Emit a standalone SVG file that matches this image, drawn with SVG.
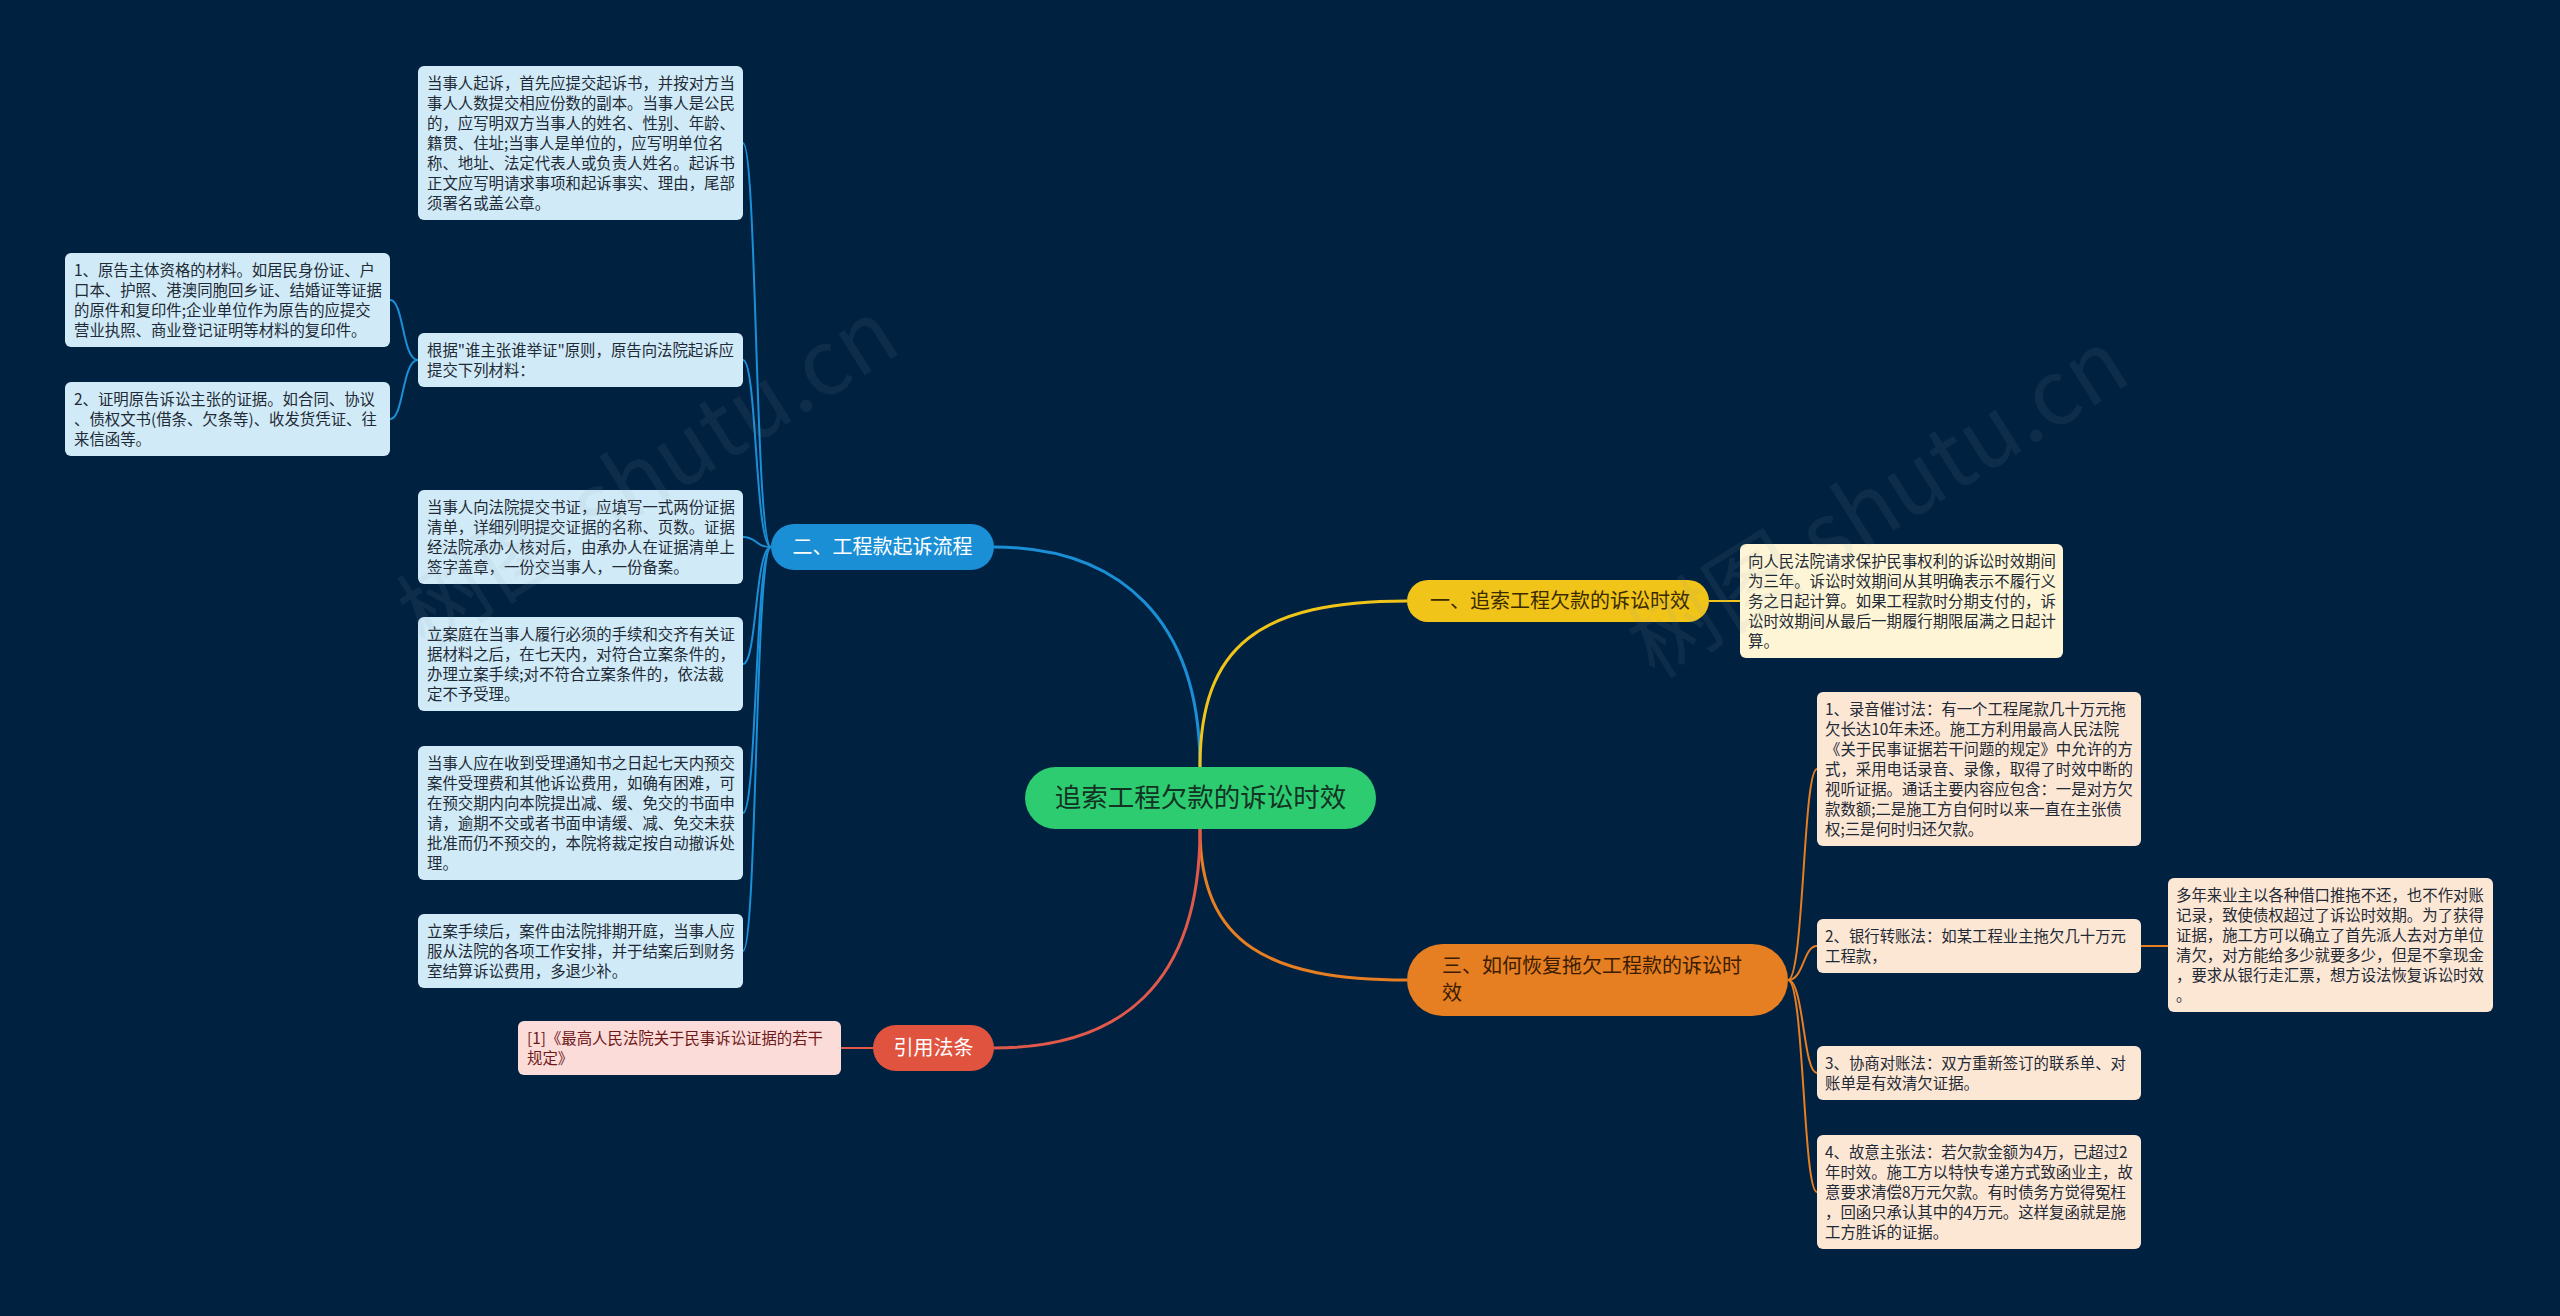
<svg xmlns="http://www.w3.org/2000/svg" width="2560" height="1316" viewBox="0 0 2560 1316">
<style>
text{font-family:"Noto Sans CJK SC","Noto Sans",sans-serif;}
.leaf{font-size:15.4px;fill:#1f2a36;}
.blue rect{fill:#d0eaf7;}
.yel rect{fill:#fdf5d5;}
.org rect{fill:#fce7d5;}
.pink rect{fill:#fbdcd9;}
.pill{font-size:20px;}
.wm{font-size:90px;fill:#9aa3ad;opacity:0.09;font-family:"Noto Sans CJK SC","Liberation Sans",sans-serif;}
.c{fill:none;}
</style>
<rect x="0" y="0" width="2560" height="1316" fill="#002140"/>

<g id="connectors">
  <path class="c" d="M1200 767 C1200 620 1120 547 994 547" stroke="#1b8fd6" stroke-width="3"/>
  <path class="c" d="M1200 767 C1200 645 1260 601 1407 601" stroke="#f0c419" stroke-width="3"/>
  <path class="c" d="M1200 829 C1200 945 1270 980 1407 980" stroke="#e67e22" stroke-width="3"/>
  <path class="c" d="M1200 829 C1200 985 1120 1048 994 1048" stroke="#e0594a" stroke-width="3"/>
  <g stroke="#1b8fd6" stroke-width="2" fill="none">
    <path d="M771 547 C755 547 757 143 743 143"/>
    <path d="M771 547 C755 547 757 360 743 360"/>
    <path d="M771 547 C755 547 757 537 743 537"/>
    <path d="M771 547 C755 547 757 664 743 664"/>
    <path d="M771 547 C755 547 757 813 743 813"/>
    <path d="M771 547 C755 547 757 951 743 951"/>
    <path d="M418 360 C402 360 404 300 390 300"/>
    <path d="M418 360 C402 360 404 419 390 419"/>
  </g>
  <path class="c" d="M1709 601 L1740 601" stroke="#f0c419" stroke-width="2"/>
  <g stroke="#e67e22" stroke-width="2" fill="none">
    <path d="M1788 980 C1804 980 1803 769 1817 769"/>
    <path d="M1788 980 C1804 980 1803 946 1817 946"/>
    <path d="M1788 980 C1804 980 1803 1073 1817 1073"/>
    <path d="M1788 980 C1804 980 1803 1192 1817 1192"/>
    <path d="M2141 946 L2168 946"/>
  </g>
  <path class="c" d="M873 1048 L841 1048" stroke="#e0594a" stroke-width="2"/>
</g>

<g id="root">
  <rect x="1025" y="767" width="351" height="62" rx="31" fill="#2ecc71"/>
  <text x="1200.5" y="807" text-anchor="middle" font-size="26.5" fill="#123323">追索工程欠款的诉讼时效</text>
</g>

<g id="branch1">
  <rect x="1407" y="580" width="302" height="42" rx="21" fill="#f0c419"/>
  <text class="pill" x="1430" y="608" fill="#3a2a00">一、追索工程欠款的诉讼时效</text>
</g>
<g id="branch2">
  <rect x="771" y="524" width="223" height="46" rx="23" fill="#1b8fd6"/>
  <text class="pill" x="882.5" y="554" text-anchor="middle" fill="#ffffff">二、工程款起诉流程</text>
</g>
<g id="branch3">
  <rect x="1407" y="944" width="381" height="72" rx="36" fill="#e67e22"/>
  <text class="pill" fill="#3a1c00"><tspan x="1442" y="973">三、如何恢复拖欠工程款的诉讼时</tspan><tspan x="1442" y="1000">效</tspan></text>
</g>
<g id="branch4">
  <rect x="873" y="1025" width="121" height="46" rx="23" fill="#e0533f"/>
  <text class="pill" x="933.5" y="1055" text-anchor="middle" fill="#ffffff">引用法条</text>
</g>

<g id="leafA" class="blue">
  <rect x="418" y="66" width="325" height="154" rx="6"/>
  <text class="leaf"><tspan x="427" y="89">当事人起诉，首先应提交起诉书，并按对方当</tspan><tspan x="427" y="109">事人人数提交相应份数的副本。当事人是公民</tspan><tspan x="427" y="129">的，应写明双方当事人的姓名、性别、年龄、</tspan><tspan x="427" y="149">籍贯、住址;当事人是单位的，应写明单位名</tspan><tspan x="427" y="169">称、地址、法定代表人或负责人姓名。起诉书</tspan><tspan x="427" y="189">正文应写明请求事项和起诉事实、理由，尾部</tspan><tspan x="427" y="209">须署名或盖公章。</tspan></text>
</g>
<g id="leafB" class="blue">
  <rect x="418" y="333" width="325" height="54" rx="6"/>
  <text class="leaf"><tspan x="427" y="356">根据"谁主张谁举证"原则，原告向法院起诉应</tspan><tspan x="427" y="376">提交下列材料：</tspan></text>
</g>
<g id="leafG" class="blue">
  <rect x="65" y="253" width="325" height="94" rx="6"/>
  <text class="leaf"><tspan x="74" y="276">1、原告主体资格的材料。如居民身份证、户</tspan><tspan x="74" y="296">口本、护照、港澳同胞回乡证、结婚证等证据</tspan><tspan x="74" y="316">的原件和复印件;企业单位作为原告的应提交</tspan><tspan x="74" y="336">营业执照、商业登记证明等材料的复印件。</tspan></text>
</g>
<g id="leafH" class="blue">
  <rect x="65" y="382" width="325" height="74" rx="6"/>
  <text class="leaf"><tspan x="74" y="405">2、证明原告诉讼主张的证据。如合同、协议</tspan><tspan x="74" y="425">、债权文书(借条、欠条等)、收发货凭证、往</tspan><tspan x="74" y="445">来信函等。</tspan></text>
</g>
<g id="leafC" class="blue">
  <rect x="418" y="490" width="325" height="94" rx="6"/>
  <text class="leaf"><tspan x="427" y="513">当事人向法院提交书证，应填写一式两份证据</tspan><tspan x="427" y="533">清单，详细列明提交证据的名称、页数。证据</tspan><tspan x="427" y="553">经法院承办人核对后，由承办人在证据清单上</tspan><tspan x="427" y="573">签字盖章，一份交当事人，一份备案。</tspan></text>
</g>
<g id="leafD" class="blue">
  <rect x="418" y="617" width="325" height="94" rx="6"/>
  <text class="leaf"><tspan x="427" y="640">立案庭在当事人履行必须的手续和交齐有关证</tspan><tspan x="427" y="660">据材料之后，在七天内，对符合立案条件的，</tspan><tspan x="427" y="680">办理立案手续;对不符合立案条件的，依法裁</tspan><tspan x="427" y="700">定不予受理。</tspan></text>
</g>
<g id="leafE" class="blue">
  <rect x="418" y="746" width="325" height="134" rx="6"/>
  <text class="leaf"><tspan x="427" y="769">当事人应在收到受理通知书之日起七天内预交</tspan><tspan x="427" y="789">案件受理费和其他诉讼费用，如确有困难，可</tspan><tspan x="427" y="809">在预交期内向本院提出减、缓、免交的书面申</tspan><tspan x="427" y="829">请，逾期不交或者书面申请缓、减、免交未获</tspan><tspan x="427" y="849">批准而仍不预交的，本院将裁定按自动撤诉处</tspan><tspan x="427" y="869">理。</tspan></text>
</g>
<g id="leafF" class="blue">
  <rect x="418" y="914" width="325" height="74" rx="6"/>
  <text class="leaf"><tspan x="427" y="937">立案手续后，案件由法院排期开庭，当事人应</tspan><tspan x="427" y="957">服从法院的各项工作安排，并于结案后到财务</tspan><tspan x="427" y="977">室结算诉讼费用，多退少补。</tspan></text>
</g>

<g id="leafY" class="yel">
  <rect x="1740" y="544" width="323" height="114" rx="6"/>
  <text class="leaf"><tspan x="1748" y="567">向人民法院请求保护民事权利的诉讼时效期间</tspan><tspan x="1748" y="587">为三年。诉讼时效期间从其明确表示不履行义</tspan><tspan x="1748" y="607">务之日起计算。如果工程款时分期支付的，诉</tspan><tspan x="1748" y="627">讼时效期间从最后一期履行期限届满之日起计</tspan><tspan x="1748" y="647">算。</tspan></text>
</g>

<g id="leafO1" class="org">
  <rect x="1817" y="692" width="324" height="154" rx="6"/>
  <text class="leaf"><tspan x="1825" y="715">1、录音催讨法：有一个工程尾款几十万元拖</tspan><tspan x="1825" y="735">欠长达10年未还。施工方利用最高人民法院</tspan><tspan x="1825" y="755">《关于民事证据若干问题的规定》中允许的方</tspan><tspan x="1825" y="775">式，采用电话录音、录像，取得了时效中断的</tspan><tspan x="1825" y="795">视听证据。通话主要内容应包含：一是对方欠</tspan><tspan x="1825" y="815">款数额;二是施工方自何时以来一直在主张债</tspan><tspan x="1825" y="835">权;三是何时归还欠款。</tspan></text>
</g>
<g id="leafO2" class="org">
  <rect x="1817" y="919" width="324" height="54" rx="6"/>
  <text class="leaf"><tspan x="1825" y="942">2、银行转账法：如某工程业主拖欠几十万元</tspan><tspan x="1825" y="962">工程款，</tspan></text>
</g>
<g id="leafO2c" class="org">
  <rect x="2168" y="878" width="325" height="134" rx="6"/>
  <text class="leaf"><tspan x="2176" y="901">多年来业主以各种借口推拖不还，也不作对账</tspan><tspan x="2176" y="921">记录，致使债权超过了诉讼时效期。为了获得</tspan><tspan x="2176" y="941">证据，施工方可以确立了首先派人去对方单位</tspan><tspan x="2176" y="961">清欠，对方能给多少就要多少，但是不拿现金</tspan><tspan x="2176" y="981">，要求从银行走汇票，想方设法恢复诉讼时效</tspan><tspan x="2176" y="1001">。</tspan></text>
</g>
<g id="leafO3" class="org">
  <rect x="1817" y="1046" width="324" height="54" rx="6"/>
  <text class="leaf"><tspan x="1825" y="1069">3、协商对账法：双方重新签订的联系单、对</tspan><tspan x="1825" y="1089">账单是有效清欠证据。</tspan></text>
</g>
<g id="leafO4" class="org">
  <rect x="1817" y="1135" width="324" height="114" rx="6"/>
  <text class="leaf"><tspan x="1825" y="1158">4、故意主张法：若欠款金额为4万，已超过2</tspan><tspan x="1825" y="1178">年时效。施工方以特快专递方式致函业主，故</tspan><tspan x="1825" y="1198">意要求清偿8万元欠款。有时债务方觉得冤枉</tspan><tspan x="1825" y="1218">，回函只承认其中的4万元。这样复函就是施</tspan><tspan x="1825" y="1238">工方胜诉的证据。</tspan></text>
</g>

<g id="leafCite" class="pink">
  <rect x="518" y="1021" width="323" height="54" rx="6"/>
  <text class="leaf" style="fill:#6e1a1a"><tspan x="527" y="1044">[1]《最高人民法院关于民事诉讼证据的若干</tspan><tspan x="527" y="1064">规定》</tspan></text>
</g>

<text class="wm" x="425" y="650" transform="rotate(-32 425 650)">树图 shutu.cn</text>
<text class="wm" x="1655" y="680" transform="rotate(-32 1655 680)">树图 shutu.cn</text>
</svg>
